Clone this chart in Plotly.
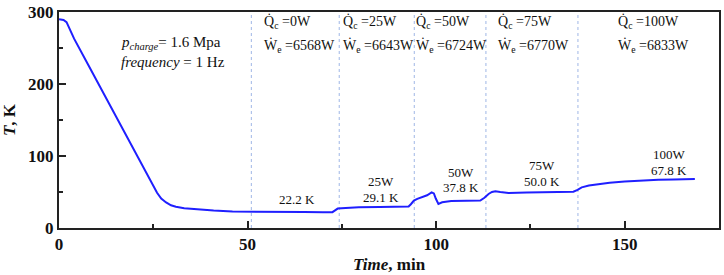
import plotly.graph_objects as go

# Temperature history
time_min = [0, 0.6, 1.2, 2.0, 4.0, 7.7, 12.0, 16.6, 20.0, 24.4, 26.0, 27.1, 28.4, 29.7, 31.0,
            33.2, 37.2, 41.0, 46.0, 50.0, 55.0, 60.0, 65.0, 70.0, 72.5, 73.2, 73.9, 76.0,
            79.5, 85.0, 90.0, 92.7, 93.3, 94.1, 95.0, 96.3, 97.6, 98.8, 99.4, 99.9, 100.6,
            101.6, 104.0, 108.0, 111.7, 112.8, 113.9, 114.8, 115.7, 117.0, 119.2, 124.0,
            130.0, 136.4, 137.5, 138.6, 140.5, 143.0, 146.0, 150.0, 154.0, 158.9, 163.0, 168.6]
temp_K = [290, 290, 289, 286, 263, 227, 185, 140, 106, 63, 49, 41, 35.5, 31.5, 29.5,
          27.5, 25.3, 24.2, 23.0, 22.6, 22.3, 22.2, 22.1, 22.0, 22.0, 24.5, 27.0, 27.8,
          28.9, 29.2, 29.6, 29.8, 33.0, 38.0, 40.5, 42.6, 45.5, 49.5, 48.0, 41.0, 33.5,
          35.8, 37.5, 37.8, 38.1, 42.0, 47.3, 50.0, 51.0, 50.0, 48.7, 49.2,
          49.6, 50.3, 53.0, 56.4, 59.0, 61.0, 63.0, 64.7, 66.0, 67.0, 67.5, 68.0]

stage_times = [51.0, 74.3, 94.2, 113.2, 137.6]
q_labels = ["0W", "25W", "50W", "75W", "100W"]
we_labels = ["6568W", "6643W", "6724W", "6770W", "6833W"]
top_label_x = [53.7, 74.8, 94.1, 116.0, 147.8]

plateau_power = ["", "25W", "50W", "75W", "100W"]
plateau_temp = ["22.2 K", "29.1 K", "37.8 K", "50.0 K", "67.8 K"]
plateau_x = [63.2, 85.4, 106.5, 128.1, 161.8]
plateau_y = [39.5, 42.0, 55.6, 64.7, 80.0]

x_ticks = [0, 50, 100, 150]
y_ticks = [0, 100, 200, 300]

FONT = "Liberation Serif"
BLUE = "#1f1fff"

fig = go.Figure()
fig.add_trace(go.Scatter(x=time_min, y=temp_K, mode="lines",
                         line=dict(color=BLUE, width=2), showlegend=False,
                         hoverinfo="skip"))

for t in stage_times:
    fig.add_shape(type="line", x0=t, x1=t, y0=0, y1=300, xref="x", yref="y",
                  line=dict(color="#9fb6e6", width=1, dash="dot"), layer="below")

for x, q, w in zip(top_label_x, q_labels, we_labels):
    fig.add_annotation(x=x, y=286, xref="x", yref="y", xanchor="left", yanchor="middle",
                       text="Q̇<sub>c</sub> =" + q, showarrow=False,
                       font=dict(family=FONT, size=14, color="#111"))
    fig.add_annotation(x=x, y=253, xref="x", yref="y", xanchor="left", yanchor="middle",
                       text="Ẇ<sub>e</sub> =" + w, showarrow=False,
                       font=dict(family=FONT, size=14, color="#111"))

for x, y, p, tt in zip(plateau_x, plateau_y, plateau_power, plateau_temp):
    if p:
        fig.add_annotation(x=x, y=y + 22, xref="x", yref="y", text=p, showarrow=False,
                           xanchor="center", yanchor="middle",
                           font=dict(family=FONT, size=13, color="#111"))
    fig.add_annotation(x=x, y=y, xref="x", yref="y", text=tt, showarrow=False,
                       xanchor="center", yanchor="middle",
                       font=dict(family=FONT, size=13, color="#111"))

fig.add_annotation(x=16.0, y=257, xref="x", yref="y", xanchor="left", yanchor="middle",
                   text="<i>p<sub>charge</sub></i>= 1.6 Mpa", showarrow=False,
                   font=dict(family=FONT, size=15, color="#111"))
fig.add_annotation(x=16.0, y=230, xref="x", yref="y", xanchor="left", yanchor="middle",
                   text="<i>frequency</i> = 1 Hz", showarrow=False,
                   font=dict(family=FONT, size=15, color="#111"))

fig.add_annotation(x=0.5, y=-0.17, xref="paper", yref="paper", xanchor="center",
                   yanchor="middle", text="<b><i>Time</i>, min</b>", showarrow=False,
                   font=dict(family=FONT, size=17, color="#111"))

axis_common = dict(showgrid=False, zeroline=False, showline=True, linecolor="#222",
                   linewidth=2, mirror=True, ticks="inside", ticklen=7, tickwidth=1.5,
                   tickcolor="#222",
                   tickfont=dict(family=FONT, size=17, color="#111", weight="bold"))

fig.update_xaxes(range=[0, 175], tickvals=x_ticks,
                 minor=dict(dtick=25, tick0=0, ticks="inside", ticklen=4, tickwidth=1.5,
                            tickcolor="#222"),
                 **axis_common)
fig.update_yaxes(range=[0, 300], tickvals=y_ticks,
                 minor=dict(dtick=50, tick0=0, ticks="inside", ticklen=4, tickwidth=1.5,
                            tickcolor="#222"),
                 title=dict(text="<b><i>T</i>, K</b>", standoff=8,
                            font=dict(family=FONT, size=17, color="#111")),
                 **axis_common)

fig.update_layout(width=724, height=275, margin=dict(l=59, r=3, t=10, b=47),
                  plot_bgcolor="white", paper_bgcolor="white",
                  font=dict(family=FONT))

fig.write_html("out.html", config={"displayModeBar": False},
               post_script="document.body.style.margin='0px';document.body.style.overflow='hidden';")
